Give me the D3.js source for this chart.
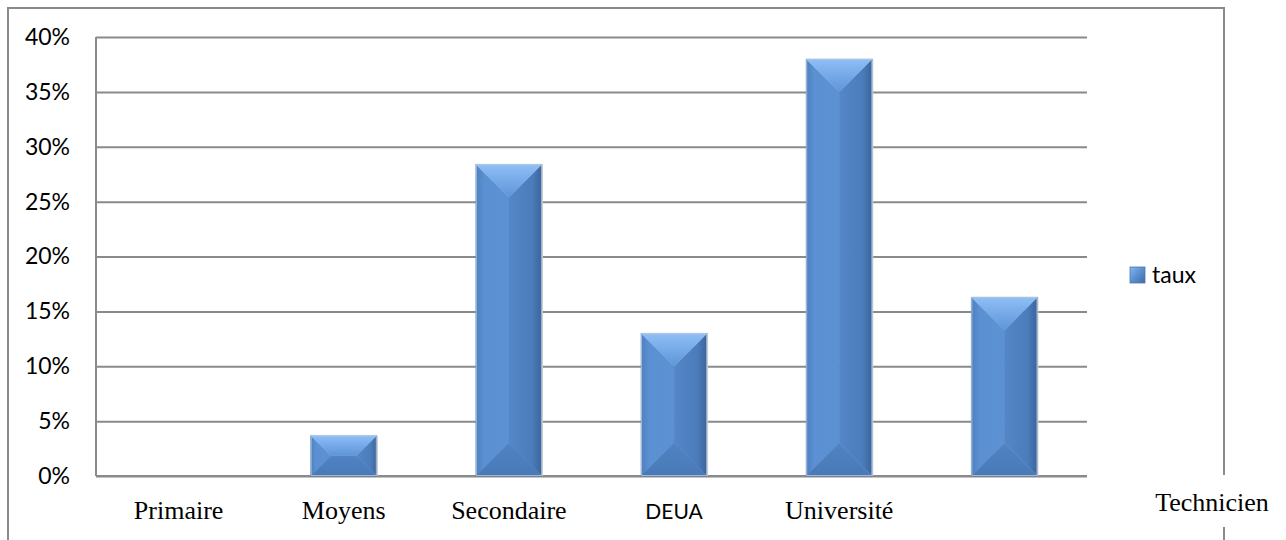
<!DOCTYPE html>
<html>
<head>
<meta charset="utf-8">
<script src="https://cdn.jsdelivr.net/npm/d3@7"></script>
<style>
  html, body { margin: 0; padding: 0; background: #fff; }
  svg { display: block; }
</style>
</head>
<body>
<svg id="chart" width="1286" height="540"></svg>
<script>
// Niveau d'instruction : part de chaque catégorie
const categories = ["Primaire", "Moyens", "Secondaire", "DEUA", "Université", "Technicien"];
const taux = [0, 0.037, 0.284, 0.13, 0.38, 0.163];
const yTicks = [0, 0.05, 0.10, 0.15, 0.20, 0.25, 0.30, 0.35, 0.40];
const seriesName = "taux";

const W = 1286, H = 540;
const frame = { left: 8, top: 8, right: 1224 };
const plot = { left: 96, top: 37, right: 1087, bottom: 476 };
const gridColor = "#8a8a8a";
const serif = "'Liberation Serif', 'Times New Roman', serif";
const sans = "Lato, 'Open Sans', 'Liberation Sans', sans-serif";

const svg = d3.select("#chart");

// gradients for the bevelled column faces
const defs = svg.append("defs");
function grad(id, x2, y2, stops) {
  const g = defs.append("linearGradient").attr("id", id)
    .attr("x1", 0).attr("y1", 0).attr("x2", x2).attr("y2", y2);
  stops.forEach(([o, c]) => g.append("stop").attr("offset", o).attr("stop-color", c));
}
grad("faceTop", 0, 1, [[0, "#90bff5"], [0.5, "#76a9e8"], [1, "#5f95d6"]]);
grad("faceLeft", 1, 0, [[0, "#4d80bf"], [0.25, "#5b90d2"], [1, "#5c91d3"]]);
grad("faceRight", 1, 0, [[0, "#5487c8"], [0.7, "#4b7cbb"], [1, "#3a659d"]]);
grad("faceBottom", 0, 1, [[0, "#5083c3"], [1, "#4979b7"]]);
grad("faceMid", 1, 0, [[0, "#5a8fd0"], [1, "#4d7fbf"]]);
grad("legendSwatch", 1, 1, [[0, "#86b6ef"], [0.5, "#5b8fd0"], [1, "#3f6ca6"]]);

const x = d3.scaleBand().domain(categories).range([plot.left, plot.right]).paddingInner(0.6).paddingOuter(0.3);
const y = d3.scaleLinear().domain([0, 0.4]).range([plot.bottom, plot.top]);

// outer frame, open where the last category label sits
const frameG = svg.append("g");

// grid + y labels
const yAxis = d3.axisLeft(y)
  .tickValues(yTicks)
  .tickFormat(d3.format(".0%"))
  .tickSize(-(plot.right - plot.left))
  .tickPadding(26);
const ga = svg.append("g").attr("transform", `translate(${plot.left},0)`).call(yAxis);
ga.select(".domain").remove();
ga.selectAll(".tick line").attr("stroke", gridColor).attr("stroke-width", 2);
ga.selectAll(".tick text")
  .attr("fill", "#000")
  .style("font-family", sans)
  .style("font-size", "23px");

// axis lines
svg.append("line")
  .attr("x1", plot.left).attr("x2", plot.left)
  .attr("y1", y(0.4)).attr("y2", y(0))
  .attr("stroke", gridColor).attr("stroke-width", 2);
svg.append("line")
  .attr("x1", plot.left).attr("x2", plot.right)
  .attr("y1", y(0)).attr("y2", y(0))
  .attr("stroke", gridColor).attr("stroke-width", 2);

// bevelled columns
const bars = svg.append("g");
categories.forEach((c, i) => {
  const v = taux[i];
  if (v <= 0) return;
  const x0 = x(c), w = x.bandwidth();
  const y0 = y(v), h = y(0) - y(v);
  const d = Math.min(w, h) / 2;
  const g = bars.append("g");
  const pt = (a) => a.map(p => p.join(",")).join(" ");
  const faces = [
    ["faceLeft", [[x0, y0], [x0 + d, y0 + d], [x0 + d, y0 + h - d], [x0, y0 + h]]],
    ["faceRight", [[x0 + w, y0], [x0 + w - d, y0 + d], [x0 + w - d, y0 + h - d], [x0 + w, y0 + h]]],
    ["faceBottom", [[x0, y0 + h], [x0 + w, y0 + h], [x0 + w - d, y0 + h - d], [x0 + d, y0 + h - d]]],
    ["faceTop", [[x0, y0], [x0 + w, y0], [x0 + w - d, y0 + d], [x0 + d, y0 + d]]]
  ];
  if (w - 2 * d > 0.5 && h - 2 * d > 0.5) {
    faces.unshift(["faceMid", [[x0 + d, y0 + d], [x0 + w - d, y0 + d], [x0 + w - d, y0 + h - d], [x0 + d, y0 + h - d]]]);
  }
  faces.forEach(([id, p]) => {
    g.append("polygon").attr("points", pt(p)).attr("fill", `url(#${id})`)
      .attr("stroke", `url(#${id})`).attr("stroke-width", 0.6);
  });
  g.append("rect")
    .attr("x", x0 + 0.5).attr("y", y0 + 0.5)
    .attr("width", w - 1).attr("height", h - 1)
    .attr("fill", "none").attr("stroke", "#b7c6da").attr("stroke-width", 1).attr("opacity", 0.8);
  g.append("line")
    .attr("x1", x0 + w + 0.5).attr("x2", x0 + w + 0.5).attr("y1", y0 + 1).attr("y2", y0 + h)
    .attr("stroke", "#c9cdd3").attr("stroke-width", 1);
});

// category labels
const labels = svg.append("g");
const lastBaseline = 511;
categories.forEach((c, i) => {
  const last = i === categories.length - 1;
  labels.append("text")
    .attr("x", last ? frame.right - 12 : x(c) + x.bandwidth() / 2)
    .attr("y", last ? lastBaseline : 519)
    .attr("text-anchor", "middle")
    .style("font-family", c === "DEUA" ? sans : serif)
    .style("font-size", c === "DEUA" ? "21px" : "26px")
    .attr("fill", "#000")
    .text(c);
});

// frame with gap around the trailing label
frameG.append("path")
  .attr("d", `M${frame.left},${H} V${frame.top} H${frame.right} V${lastBaseline - 36} M${frame.right},${lastBaseline + 16} V${H}`)
  .attr("fill", "none").attr("stroke", gridColor).attr("stroke-width", 2);

// legend
const lg = svg.append("g").attr("transform", "translate(1130,267)");
lg.append("rect").attr("width", 15).attr("height", 16).attr("fill", "url(#legendSwatch)")
  .attr("stroke", "#4a78b2").attr("stroke-width", 0.8);
lg.append("text").attr("x", 22).attr("y", 16)
  .style("font-family", sans).style("font-size", "23px").attr("fill", "#000")
  .text(seriesName);
</script>
</body>
</html>
